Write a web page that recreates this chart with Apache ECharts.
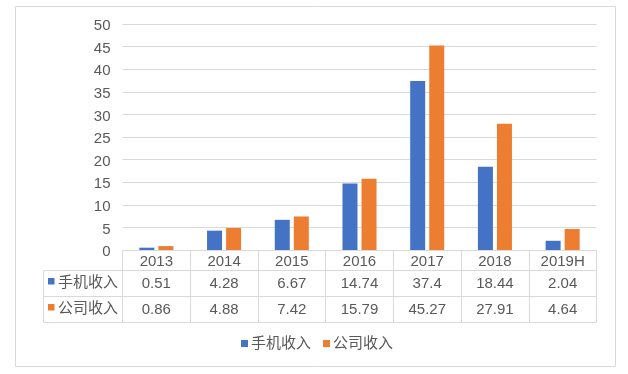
<!DOCTYPE html>
<html><head><meta charset="utf-8">
<script src="https://cdn.jsdelivr.net/npm/echarts@6/dist/echarts.min.js"></script>
<style>html,body{margin:0;padding:0;background:#fff}#c{width:628px;height:374px}</style>
</head><body><div id="c"></div>
<script>
var categories = ['2013','2014','2015','2016','2017','2018','2019H'];
var seriesNames = ['手机收入','公司收入'];
var phoneIncome = [0.51, 4.28, 6.67, 14.74, 37.4, 18.44, 2.04];
var companyIncome = [0.86, 4.88, 7.42, 15.79, 45.27, 27.91, 4.64];
var colors = ['#4472C4', '#ED7D31'];

var FONT = '"Liberation Sans", "Noto Sans CJK SC", sans-serif';
var TXT = '#595959';
var LINE = '#D9D9D9';

var chart = echarts.init(document.getElementById('c'));
function valueAxis(arr, margin) {
  return {
    type: 'category', data: categories, position: 'bottom', gridIndex: 0,
    axisLine: {show: false}, axisTick: {show: false}, splitLine: {show: false},
    axisLabel: {margin: margin, fontSize: 15, color: TXT, fontFamily: FONT, verticalAlign: 'middle',
      interval: 0, formatter: function (v, i) { return String(arr[i]); }}
  };
}
chart.setOption({
  animation: false,
  textStyle: {fontFamily: FONT},
  grid: {left: 122.5, right: 31.5, top: 24, bottom: 124},
  legend: {
    data: seriesNames, left: 236, top: 331, itemWidth: 7, itemHeight: 7, itemGap: 12,
    icon: 'rect', textStyle: {fontSize: 15, color: TXT, fontFamily: FONT, padding: [0, 0, 0, -2]}
  },
  xAxis: [
    {
      type: 'category', data: categories, position: 'bottom',
      axisLine: {show: true, lineStyle: {color: LINE}},
      axisTick: {show: true, length: 72.5, interval: 0, lineStyle: {color: LINE}},
      axisLabel: {margin: 11.5, fontSize: 15, color: TXT, fontFamily: FONT, verticalAlign: 'middle', interval: 0}
    },
    valueAxis(phoneIncome, 33.5),
    valueAxis(companyIncome, 59.5)
  ],
  yAxis: {
    type: 'value', min: 0, max: 50, interval: 5,
    axisLine: {show: false}, axisTick: {show: false},
    splitLine: {lineStyle: {color: LINE}},
    axisLabel: {fontSize: 15, color: TXT, fontFamily: FONT, margin: 12, verticalAlign: 'middle',
      formatter: function (v) { return '{a|' + v + '}'; },
      rich: {a: {fontSize: 15, color: TXT, fontFamily: FONT, padding: [4, 0, 0, 0]}}}
  },
  series: [
    {name: seriesNames[0], type: 'bar', data: phoneIncome, barWidth: 15, barGap: '27%', itemStyle: {color: colors[0]}},
    {name: seriesNames[1], type: 'bar', data: companyIncome, barWidth: 15, barGap: '27%', itemStyle: {color: colors[1]}}
  ],
  graphic: [
    {type: 'rect', shape: {x: 15.5, y: 6.5, width: 600, height: 360}, style: {fill: 'none', stroke: LINE}, silent: true},
    {type: 'line', shape: {x1: 43.5, y1: 270.5, x2: 596.5, y2: 270.5}, style: {stroke: LINE}},
    {type: 'line', shape: {x1: 43.5, y1: 296.5, x2: 596.5, y2: 296.5}, style: {stroke: LINE}},
    {type: 'line', shape: {x1: 43.5, y1: 322.5, x2: 596.5, y2: 322.5}, style: {stroke: LINE}},
    {type: 'line', shape: {x1: 43.5, y1: 270.5, x2: 43.5, y2: 322.5}, style: {stroke: LINE}},
    {type: 'rect', shape: {x: 48, y: 278, width: 6.5, height: 6.5}, style: {fill: colors[0]}},
    {type: 'rect', shape: {x: 48, y: 304, width: 6.5, height: 6.5}, style: {fill: colors[1]}},
    {type: 'text', x: 58, y: 283, style: {text: seriesNames[0], fontSize: 15, fill: TXT, fontFamily: FONT, verticalAlign: 'middle'}},
    {type: 'text', x: 58, y: 309, style: {text: seriesNames[1], fontSize: 15, fill: TXT, fontFamily: FONT, verticalAlign: 'middle'}}
  ]
});
</script></body></html>
